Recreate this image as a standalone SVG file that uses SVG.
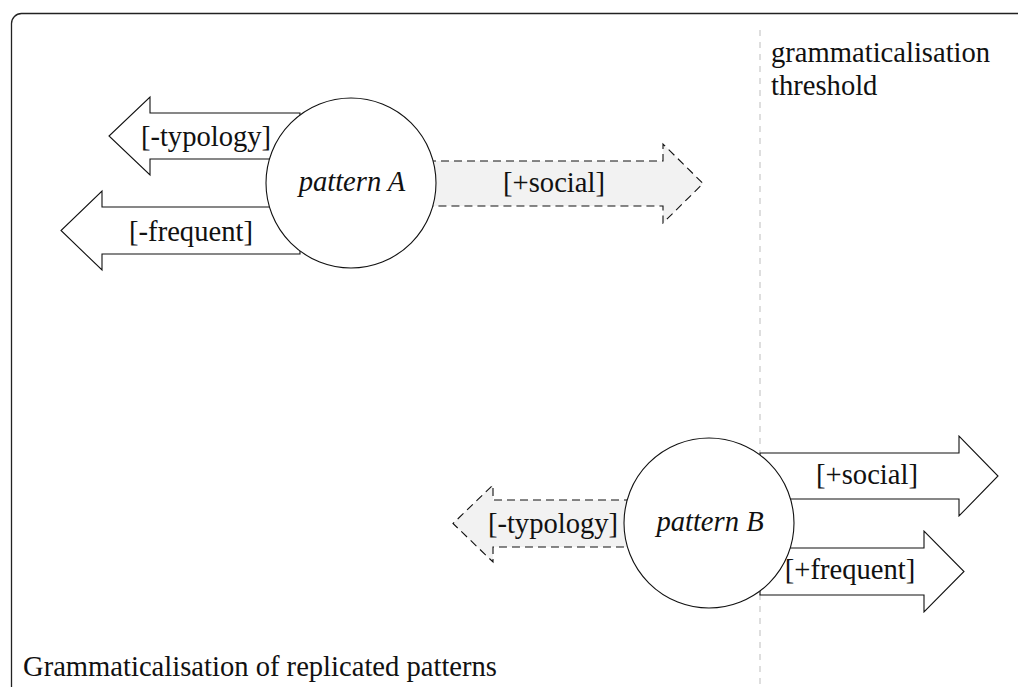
<svg xmlns="http://www.w3.org/2000/svg" width="1018" height="687" viewBox="0 0 1018 687">
<style>
text{font-family:"Liberation Serif","DejaVu Serif",serif;font-size:28.6px;fill:#111}
.it{font-style:italic}
.arr{fill:#fff;stroke:#111;stroke-width:1.1;stroke-linejoin:miter}
.darr{fill:#f2f2f2;stroke:#111;stroke-width:1.1;stroke-dasharray:8 5}
.node{fill:#fff;stroke:#111;stroke-width:1.1}
.thr{stroke:#c8c8c8;stroke-width:1.2;stroke-dasharray:6 6;fill:none}
.frame{fill:#fff;stroke:#222;stroke-width:1.3}
</style>
<rect class="frame" x="11.5" y="13.5" width="1030" height="700" rx="10" ry="10"/>
<g id="threshold">
<line class="thr" x1="760" y1="30" x2="760" y2="687"/>
<text x="771" y="62">grammaticalisation</text>
<text x="771" y="95">threshold</text>
</g>
<g id="connectors">
<path class="arr" d="M300,113 L150,113 L150,97 L109,136 L150,175 L150,159 L300,159 Z"/>
<path class="arr" d="M300,207 L102,207 L102,191 L61,230.5 L102,270 L102,254 L300,254 Z"/>
<path class="darr" d="M402,161 L663,161 L663,144 L703,183.5 L663,223 L663,206 L402,206 Z"/>
<path class="darr" d="M658,500 L493,500 L493,485 L453,523.5 L493,562 L493,547 L658,547 Z"/>
<path class="arr" d="M760,453 L959,453 L959,436 L998,476 L959,516 L959,499 L760,499 Z"/>
<path class="arr" d="M760,548 L924,548 L924,531 L964,571.5 L924,612 L924,595 L760,595 Z"/>
</g>
<g id="patternA">
<circle class="node" cx="351" cy="183" r="85"/>
<text class="it" x="352" y="191" text-anchor="middle">pattern A</text>
</g>
<g id="patternB">
<circle class="node" cx="709" cy="523" r="85"/>
<text class="it" x="710" y="531" text-anchor="middle">pattern B</text>
</g>
<g id="labels">
<text x="206" y="146" text-anchor="middle">[-typology]</text>
<text x="191" y="241" text-anchor="middle">[-frequent]</text>
<text x="554" y="192" text-anchor="middle">[+social]</text>
<text x="553" y="533" text-anchor="middle">[-typology]</text>
<text x="867" y="484" text-anchor="middle">[+social]</text>
<text x="850" y="579" text-anchor="middle">[+frequent]</text>
</g>
<text x="23" y="676">Grammaticalisation of replicated patterns</text>
</svg>
